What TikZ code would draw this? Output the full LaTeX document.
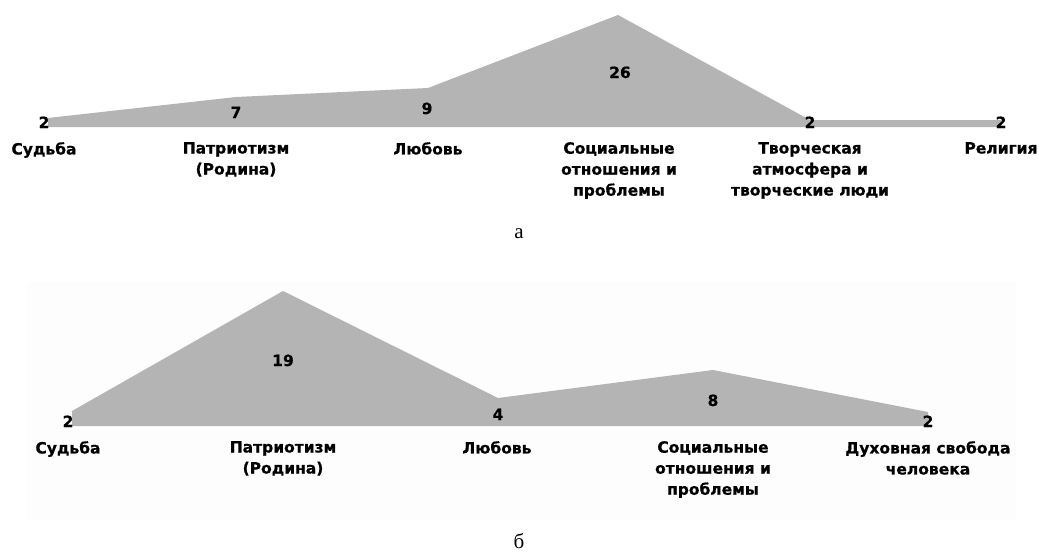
\documentclass[tikz,border=0pt]{standalone}
\usepackage{fontspec}
\setmainfont{Liberation Serif}
\newfontfamily\lblfont[FakeBold=0.6]{DejaVu Sans}
\begin{document}
\begin{tikzpicture}[x=1pt,y=-1pt,
  area/.style={fill=areagray,draw=none},
  val/.style={font=\lblfont\bfseries\fontsize{15.5}{17}\selectfont,inner sep=0pt,anchor=base},
  cat/.style={font=\lblfont\bfseries\fontsize{15.5}{21}\selectfont,inner sep=0pt,anchor=north,align=center},
  capt/.style={font=\fontsize{21}{24}\selectfont,inner sep=0pt,anchor=base}]
\definecolor{areagray}{RGB}{180,180,180}
\definecolor{bggray}{RGB}{253,253,253}
\useasboundingbox (0,0) rectangle (1039,552);
\fill[white] (0,0) rectangle (1039,552);
\fill[bggray] (27,282) rectangle (1016,520);
% ---- chart a ----
\coordinate (a0) at (48,127);
\coordinate (a1) at (48,118);
\coordinate (a2) at (236,97);
\coordinate (a3) at (428,88);
\coordinate (a4) at (618,15);
\coordinate (a5) at (810,120);
\coordinate (a6) at (1001,120);
\coordinate (a7) at (1001,127);
\fill[area] (a0) -- (a1) -- (a2) -- (a3) -- (a4) -- (a5) -- (a6) -- (a7) -- cycle;
\node[val] (va1) at (44,128) {2};
\node[val] (va2) at (236,118) {7};
\node[val] (va3) at (427,114) {9};
\node[val] (va4) at (620,78) {26};
\node[val] (va5) at (810,128) {2};
\node[val] (va6) at (1001,128) {2};
\node[cat] (ca1) at (44,142) {Судьба};
\node[cat] (ca2) at (236,142) {Патриотизм\\(Родина)};
\node[cat] (ca3) at (428,142) {Любовь};
\node[cat] (ca4) at (619,142) {Социальные\\отношения и\\проблемы};
\node[cat] (ca5) at (810,142) {Творческая\\атмосфера и\\творческие люди};
\node[cat] (ca6) at (1001,142) {Религия};
\node[capt] (capa) at (519,238) {а};
% ---- chart b ----
\coordinate (b0) at (72,426);
\coordinate (b1) at (72,411);
\coordinate (b2) at (283,291);
\coordinate (b3) at (498,398);
\coordinate (b4) at (713,370);
\coordinate (b5) at (928,412);
\coordinate (b6) at (928,426);
\fill[area] (b0) -- (b1) -- (b2) -- (b3) -- (b4) -- (b5) -- (b6) -- cycle;
\node[val] (vb1) at (68,427) {2};
\node[val] (vb2) at (283,366) {19};
\node[val] (vb3) at (498,420) {4};
\node[val] (vb4) at (713,406) {8};
\node[val] (vb5) at (928,427) {2};
\node[cat] (cb1) at (68,441) {Судьба};
\node[cat] (cb2) at (283,441) {Патриотизм\\(Родина)};
\node[cat] (cb3) at (497,441) {Любовь};
\node[cat] (cb4) at (713,441) {Социальные\\отношения и\\проблемы};
\node[cat] (cb5) at (928,441) {Духовная свобода\\человека};
\node[capt] (capb) at (519,548) {б};
\end{tikzpicture}
\end{document}
